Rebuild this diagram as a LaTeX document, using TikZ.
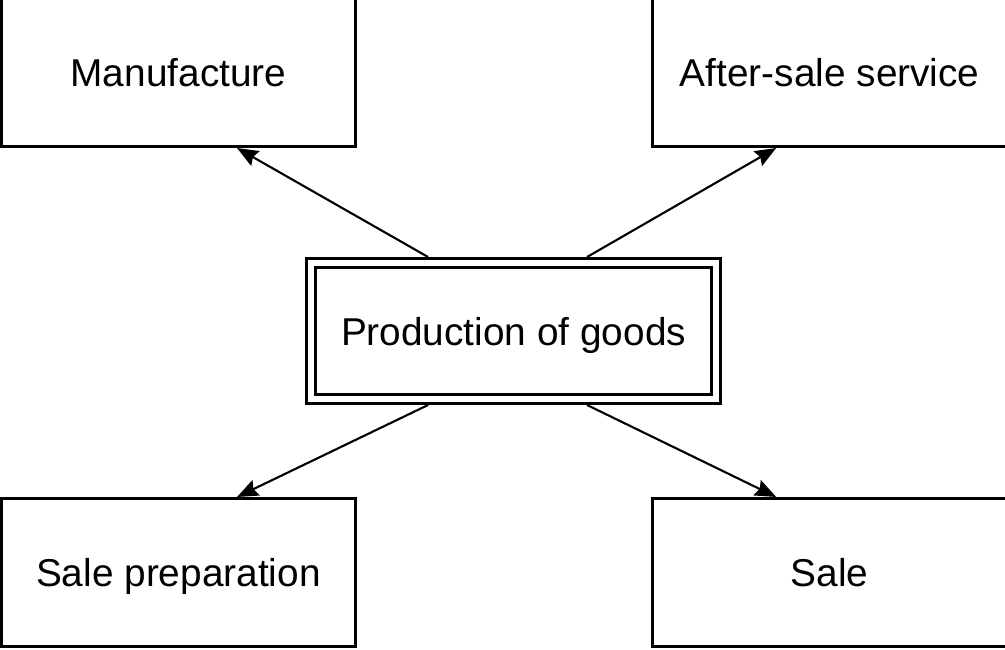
\documentclass[tikz,border=0pt]{standalone}
\usepackage{fontspec}
\setmainfont{Liberation Sans}
\usetikzlibrary{arrows.meta,positioning,calc}

\begin{document}
\begin{tikzpicture}[every node/.style={font=\fontsize{27.6}{33}\selectfont, text height=20pt, text depth=0pt}, box/.style={draw, line width=2.2pt, minimum width=8.85cm, minimum height=3.7cm}, arr/.style={line width=1.5pt, -{Stealth[length=15pt,width=12pt,inset=2pt]}}]
\useasboundingbox (0,0) rectangle (25.125,-16.225);
\node[draw, double, line width=2.2pt, double distance=4.4pt, outer sep=4.4pt, minimum width=10.12cm, minimum height=3.39cm] (prod) at (12.84,-8.275) {Production of goods};
\node[box, above left=2.725cm and -1.3cm of prod] (manuf) {Manufacture};
\node[box, above right=2.725cm and -1.775cm of prod] (after) {After-sale service};
\node[box, below left=2.3cm and -1.3cm of prod] (prep) {Sale preparation};
\node[box, below right=2.3cm and -1.775cm of prod] (sale) {Sale};
\draw[arr] ($(prod.north west)!0.295!(prod.north east)$) -- ($(manuf.south west)!0.664!(manuf.south east)$);
\draw[arr] ($(prod.north west)!0.676!(prod.north east)$) -- ($(after.south west)!0.35!(after.south east)$);
\draw[arr] ($(prod.south west)!0.295!(prod.south east)$) -- ($(prep.north west)!0.664!(prep.north east)$);
\draw[arr] ($(prod.south west)!0.676!(prod.south east)$) -- ($(sale.north west)!0.35!(sale.north east)$);
\end{tikzpicture}
\end{document}
